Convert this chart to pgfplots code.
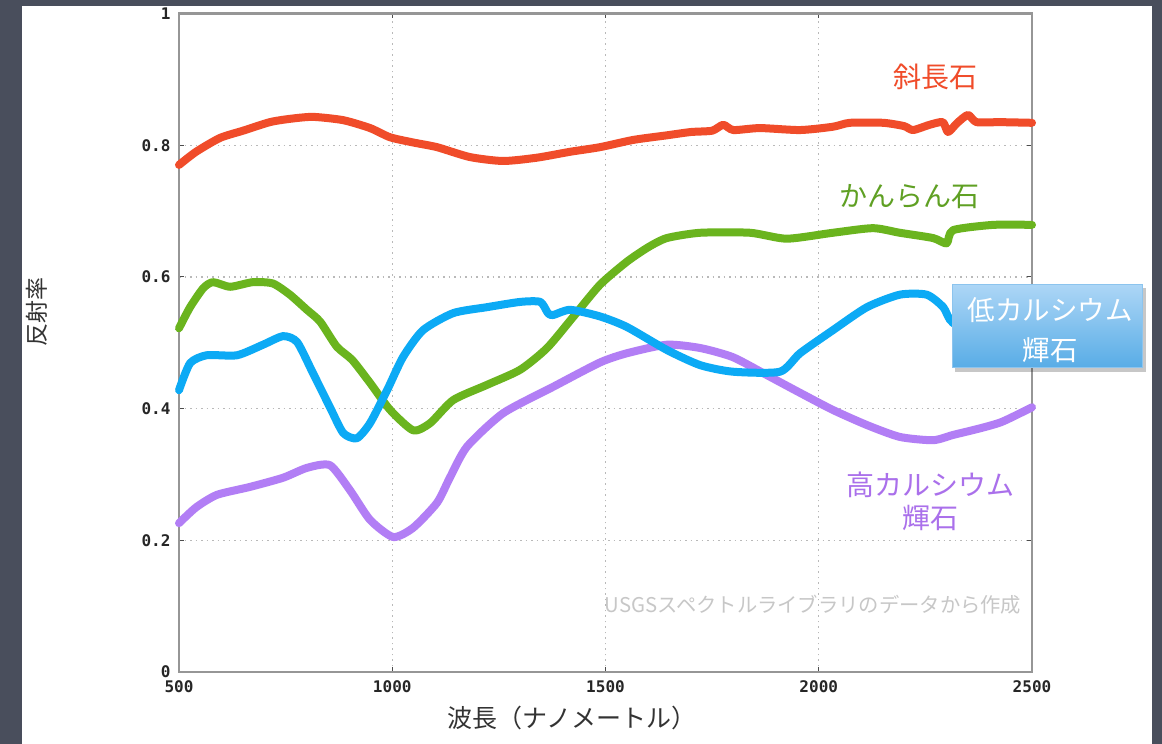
\documentclass[border=0pt]{standalone}
\usepackage{fontspec}
\setmainfont{Noto Sans CJK JP}
\newfontfamily\tickfont{DejaVu Sans Mono}
\usepackage{pgfplots}
\pgfplotsset{compat=1.18}
\definecolor{bgc}{RGB}{73,78,92}
\definecolor{cred}{RGB}{240,76,42}
\definecolor{cgreen}{RGB}{106,180,30}
\definecolor{cblue}{RGB}{12,170,245}
\definecolor{cpurple}{RGB}{178,126,245}
\definecolor{tgreen}{RGB}{95,160,35}
\definecolor{tpurple}{RGB}{170,112,235}
\definecolor{boxtop}{RGB}{172,214,246}
\definecolor{boxbot}{RGB}{88,172,230}
\definecolor{boxedge}{RGB}{140,196,238}
\definecolor{gridc}{RGB}{185,185,185}
\definecolor{axc}{RGB}{150,150,150}

\pgfplotstableread{
x y
500 0.770
540 0.790
596 0.811
650 0.822
713 0.835
760 0.840
814 0.843
885 0.838
948 0.826
995 0.812
1050 0.804
1105 0.797
1182 0.782
1260 0.776
1339 0.781
1417 0.790
1487 0.797
1565 0.808
1644 0.815
1700 0.820
1750 0.822
1776 0.831
1800 0.823
1862 0.826
1956 0.823
2033 0.828
2073 0.834
2151 0.834
2200 0.829
2221 0.823
2260 0.831
2291 0.835
2303 0.820
2325 0.834
2350 0.846
2370 0.835
2425 0.835
2500 0.834
}\plagio

\pgfplotstableread{
x y
500 0.522
526 0.554
557 0.583
580 0.592
620 0.585
673 0.592
720 0.590
760 0.573
800 0.550
831 0.532
870 0.494
906 0.474
948 0.439
995 0.398
1049 0.367
1089 0.378
1143 0.413
1222 0.436
1300 0.459
1363 0.492
1424 0.539
1487 0.588
1550 0.623
1600 0.645
1644 0.659
1722 0.667
1839 0.667
1925 0.658
2033 0.667
2127 0.674
2190 0.667
2268 0.659
2300 0.651
2315 0.671
2409 0.679
2500 0.679
}\olivine

\pgfplotstableread{
x y
500 0.428
526 0.469
565 0.481
636 0.481
697 0.497
744 0.510
777 0.501
814 0.454
854 0.402
885 0.363
917 0.355
948 0.378
988 0.428
1025 0.478
1072 0.519
1143 0.545
1222 0.554
1300 0.562
1347 0.562
1365 0.545
1377 0.542
1417 0.550
1487 0.540
1550 0.524
1644 0.489
1722 0.466
1799 0.456
1909 0.456
1956 0.484
2033 0.519
2113 0.554
2190 0.573
2253 0.573
2292 0.554
2315 0.530
2400 0.510
2500 0.500
}\lowca

\pgfplotstableread{
x y
500 0.226
540 0.250
589 0.269
666 0.281
744 0.295
800 0.310
854 0.314
901 0.276
948 0.231
1002 0.205
1049 0.219
1105 0.257
1135 0.295
1175 0.342
1260 0.393
1377 0.433
1487 0.470
1550 0.484
1644 0.497
1722 0.492
1799 0.478
1878 0.451
1956 0.424
2033 0.398
2113 0.375
2190 0.357
2268 0.352
2315 0.360
2378 0.370
2430 0.380
2500 0.402
}\highca

\begin{document}
\begin{tikzpicture}[x=1pt,y=1pt]
\fill[bgc] (0,0) rectangle (1162,744);
\fill[white] (22,0) rectangle (1152,738);
\begin{axis}[
  at={(179pt,72pt)}, anchor=south west,
  scale only axis, width=853pt, height=658.5pt,
  xmin=500, xmax=2500, ymin=0, ymax=1,
  xtick={500,1000,1500,2000,2500},
  xticklabels={500,1000,1500,2000,2500},
  ytick={0,0.2,0.4,0.6,0.8,1},
  yticklabels={0,0.2,0.4,0.6,0.8,1},
  tick align=inside,
  major tick length=5pt,
  tick style={color=black!70, line width=1pt},
  axis line style={draw=axc, line width=2.5pt},
  grid=major,
  major grid style={draw=gridc, line width=1.3pt, dash pattern=on 1.5pt off 4pt},
  ticklabel style={font=\tickfont\bfseries\fontsize{16}{16}\selectfont, text=black!85},
  xticklabel style={yshift=-5pt},
  yticklabel style={xshift=-5pt},
  clip=false,
]
\addplot[cgreen, line width=8pt, line join=round, line cap=round, smooth, tension=0.4] table {\olivine};
\addplot[cpurple, line width=8pt, line join=round, line cap=round, smooth, tension=0.4] table {\highca};
\addplot[cblue, line width=8pt, line join=round, line cap=round, smooth, tension=0.4] table {\lowca};
\addplot[cred, line width=8pt, line join=round, line cap=round, smooth, tension=0.4] table {\plagio};
\end{axis}
% annotations
\node[text=cred, font=\fontsize{28}{28}\selectfont] at (935,667) {斜長石};
\node[text=tgreen, font=\fontsize{28}{28}\selectfont] at (909,547) {かんらん石};
\node[text=tpurple, font=\fontsize{28}{28}\selectfont] at (930,259) {高カルシウム};
\node[text=tpurple, font=\fontsize{28}{28}\selectfont] at (930,226) {輝石};
\fill[black, opacity=0.22] (955,372) rectangle (1146,456);
\shade[top color=boxtop, bottom color=boxbot, draw=boxedge, line width=1pt] (952,376) rectangle (1142,459);
\node[text=white, font=\fontsize{27.5}{27.5}\selectfont] at (1050,434) {低カルシウム};
\node[text=white, font=\fontsize{27.5}{27.5}\selectfont] at (1050,394) {輝石};
\node[text=black!22, font=\fontsize{20.3}{20.3}\selectfont] at (813,139) {USGSスペクトルライブラリのデータから作成};
\node[text=black!80, font=\fontsize{25}{25}\selectfont] at (572,26) {波長（ナノメートル）};
\node[text=black!80, font=\fontsize{23}{23}\selectfont, rotate=90] at (37,432) {反射率};
\end{tikzpicture}
\end{document}
